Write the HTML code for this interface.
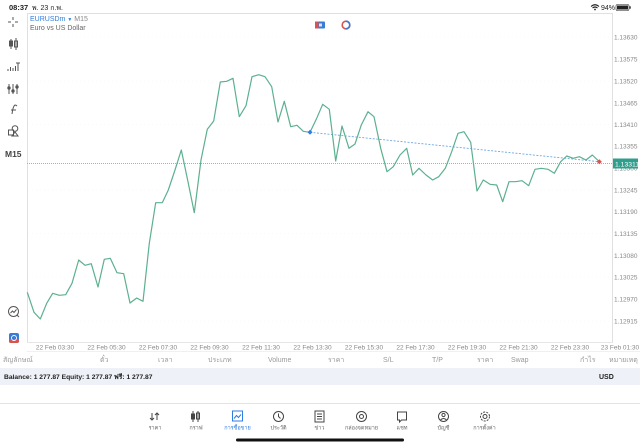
<!DOCTYPE html>
<html><head><meta charset="utf-8">
<style>
html,body{margin:0;padding:0;background:#fff;}
body{width:640px;height:447px;overflow:hidden;position:relative;font-family:"Liberation Sans","Noto Sans CJK SC",sans-serif;}
svg{position:absolute;left:0;top:0;}
text{font-family:"Liberation Sans","Noto Sans CJK SC",sans-serif;}
</style></head><body>
<svg width="640" height="447" viewBox="0 0 640 447" xmlns="http://www.w3.org/2000/svg">
<!-- status bar -->
<text x="9" y="10" font-size="7.5" fill="#222" font-weight="bold">08:37</text>
<text x="32" y="10" font-size="7" fill="#222">พ. 23 ก.พ.</text>
<path d="M591 6.5 q4 -3.5 8 0 M592.5 8 q2.5 -2 5 0" stroke="#222" stroke-width="1.1" fill="none"/>
<circle cx="595" cy="9.5" r="0.9" fill="#222"/>
<text x="601" y="10" font-size="7" fill="#222">94%</text>
<rect x="616" y="4.5" width="13" height="6" rx="1.5" fill="#fff" stroke="#222" stroke-width="0.6"/>
<rect x="617" y="5.5" width="11" height="4" fill="#222"/>
<rect x="629.5" y="6.3" width="1.2" height="2.4" fill="#222"/>

<!-- chart frame -->
<line x1="27" y1="13.5" x2="613" y2="13.5" stroke="#e0e0e0" stroke-width="1"/>
<line x1="27.5" y1="13" x2="27.5" y2="342" stroke="#e0e0e0" stroke-width="1"/>
<line x1="612.5" y1="13" x2="612.5" y2="342" stroke="#e0e0e0" stroke-width="1"/>
<line x1="27" y1="342.5" x2="613" y2="342.5" stroke="#e6e6e6" stroke-width="1"/>
<line x1="27" y1="351.5" x2="640" y2="351.5" stroke="#f0f0f0" stroke-width="1"/>
<!-- faint grid -->
<g stroke="#f3f3f3" stroke-width="0.6" stroke-dasharray="1,3">
<line x1="28" y1="37" x2="612" y2="37"/><line x1="28" y1="81" x2="612" y2="81"/>
<line x1="28" y1="124.5" x2="612" y2="124.5"/><line x1="28" y1="190" x2="612" y2="190"/>
<line x1="28" y1="233.5" x2="612" y2="233.5"/><line x1="28" y1="277" x2="612" y2="277"/>
<line x1="28" y1="321" x2="612" y2="321"/>
</g>

<!-- header -->
<text x="30" y="21" font-size="7" fill="#2f7de1">EURUSDm <tspan font-size="5">▼</tspan> <tspan fill="#888">M15</tspan></text>
<text x="30" y="30" font-size="7" fill="#666">Euro vs US Dollar</text>
<rect x="315" y="21.5" width="10" height="7" rx="1" fill="#3a7bd5"/>
<rect x="315" y="21.5" width="3.5" height="7" fill="#d9534f"/>
<rect x="319" y="23.5" width="3" height="3" fill="#fff" opacity="0.8"/>
<circle cx="346" cy="25" r="3.8" fill="none" stroke="#d9534f" stroke-width="1.6"/>
<path d="M346 21.2 a3.8 3.8 0 0 1 0 7.6" fill="none" stroke="#3a7bd5" stroke-width="1.6"/>

<!-- left toolbar -->
<g stroke="#555" stroke-width="1" fill="none">
<path d="M13 17v3 M13 24v3 M8 22h3 M15 22h3"/>
<path d="M11 39v10 M16 38v12"/><rect x="9.5" y="41" width="3" height="5" fill="#555"/><rect x="14.5" y="41" width="3" height="6"/>
<path d="M8 71v-2 M10.5 71v-4 M13 71v-3 M15.5 71v-5 M18 71v-8 M16 63h4"/>
<path d="M9 84v10 M13 84v10 M17 84v10"/><circle cx="9" cy="88" r="1.2" fill="#555"/><circle cx="13" cy="91" r="1.2" fill="#555"/><circle cx="17" cy="87" r="1.2" fill="#555"/>
<path d="M12 114 q1 -8 3 -9 q1 0 2 1 M11 110h5"/>
<rect x="8.5" y="130" width="5" height="5"/><circle cx="15" cy="128.5" r="2.8"/><path d="M12 136 l3 -4 l3 4z"/>
</g>
<text x="5" y="157" font-size="8.5" font-weight="bold" fill="#444">M15</text>
<g stroke="#555" stroke-width="1" fill="none">
<circle cx="13.5" cy="311.5" r="5"/><path d="M10.5 313 l2 -2 l1.5 1.5 l2.5 -3 M17 315 l2 2"/>
</g>
<rect x="9" y="333" width="10" height="10" rx="2" fill="#3a7bd5"/>
<path d="M9 339 h10 v2 a2 2 0 0 1 -2 2 h-6 a2 2 0 0 1 -2 -2z" fill="#d9534f"/>
<circle cx="14" cy="338" r="2.5" fill="none" stroke="#fff" stroke-width="0.9"/>

<!-- y axis labels -->
<g font-size="6.5" fill="#888">
<text x="614" y="39.5">1.13630</text>
<text x="614" y="61.5">1.13575</text>
<text x="614" y="83.5">1.13520</text>
<text x="614" y="105.5">1.13465</text>
<text x="614" y="127">1.13410</text>
<text x="614" y="148.5">1.13355</text>
<text x="614" y="170.5">1.13300</text>
<text x="614" y="192.5">1.13245</text>
<text x="614" y="214">1.13190</text>
<text x="614" y="236">1.13135</text>
<text x="614" y="258">1.13080</text>
<text x="614" y="279.5">1.13025</text>
<text x="614" y="301.5">1.12970</text>
<text x="614" y="323.5">1.12915</text>
</g>
<!-- x axis labels -->
<g font-size="6.5" fill="#888" text-anchor="middle">
<text x="55" y="349.5">22 Feb 03:30</text>
<text x="106.5" y="349.5">22 Feb 05:30</text>
<text x="158" y="349.5">22 Feb 07:30</text>
<text x="209.5" y="349.5">22 Feb 09:30</text>
<text x="261" y="349.5">22 Feb 11:30</text>
<text x="312.5" y="349.5">22 Feb 13:30</text>
<text x="364" y="349.5">22 Feb 15:30</text>
<text x="415.5" y="349.5">22 Feb 17:30</text>
<text x="467" y="349.5">22 Feb 19:30</text>
<text x="518.5" y="349.5">22 Feb 21:30</text>
<text x="570" y="349.5">22 Feb 23:30</text>
<text x="620" y="349.5">23 Feb 01:30</text>
</g>

<!-- price line -->
<line x1="27" y1="163.5" x2="612" y2="163.5" stroke="#7cc4ad" stroke-width="1" stroke-dasharray="1,1"/>
<!-- trend line -->
<line x1="310" y1="132.3" x2="599.3" y2="161.7" stroke="#6ea8e0" stroke-width="0.9" stroke-dasharray="2,1.5"/>

<!-- series -->
<polyline fill="none" stroke="#5cb08f" stroke-width="1.2" stroke-linejoin="round" points="27.3,292.3 34,312.3 40.3,319 46.7,303.3 52.7,293.3 59.3,295.3 65.7,294.7 72,283.3 78.7,260 85,265.3 91.3,263.7 98,287 104.3,259.3 110.3,258.3 117,272.7 123.7,273.7 130,303 136.7,298 143,301.3 149.3,243.3 155.7,202.7 162.3,202.7 168.3,190 175,170 181.3,150 188,181.7 194.3,212.7 201,160 207.3,129.3 213.7,121 220.3,82 226.7,81.3 233,78.3 239.3,116.7 246,105.7 252,76.7 258.7,74.7 265,76.7 271.7,86.7 278,122 284.3,101.3 290.7,126.7 297,125.3 303.3,131.3 310,132.3 316.7,118.3 322.7,104.3 329.3,109.3 335.7,161 342,126 349,148.3 355,144 361.3,125 368,111.7 374,116.7 380.7,148.3 387,171.7 393.3,166.7 400,155 406.7,148.3 412.7,175 419,168.3 426,175 432.7,180 438.7,176.7 445.3,168.3 451.7,151.7 458,133.3 464,131.7 470.7,142.3 477,191 483.3,180 490,184.3 496.7,185 502.7,201.7 509,181.7 515.3,181.7 522,180.7 528.7,185.7 535,169.3 541.3,168.3 548,169.3 554.3,173.3 560.7,161.7 566.7,156 573.3,158.3 579.3,156.7 586,160 592.3,155 599.3,161.7"/>
<!-- markers -->
<path d="M310 129.8 l2.5 2.5 l-2.5 2.5 l-2.5 -2.5z" fill="#2f7de1"/>
<path d="M599.3 159.2 l2.5 2.5 l-2.5 2.5 l-2.5 -2.5z" fill="#d9534f"/>
<!-- price tag -->
<rect x="613" y="158.5" width="25" height="10" fill="#2f9e8c"/>
<text x="615" y="166.3" font-size="6.8" fill="#fff">1.13311</text>

<!-- table header -->
<g font-size="7" fill="#999">
<text x="3" y="362">สัญลักษณ์</text>
<text x="100" y="362">ตั๋ว</text>
<text x="158" y="362">เวลา</text>
<text x="208" y="362">ประเภท</text>
<text x="268" y="362">Volume</text>
<text x="328" y="362">ราคา</text>
<text x="383" y="362">S/L</text>
<text x="432" y="362">T/P</text>
<text x="477" y="362">ราคา</text>
<text x="511" y="362">Swap</text>
<text x="580" y="362">กำไร</text>
<text x="609" y="362">หมายเหตุ</text>
</g>
<rect x="0" y="368" width="640" height="17" fill="#eef1f8"/>
<text x="4" y="379" font-size="6.7" font-weight="bold" fill="#222">Balance: 1 277.87 Equity: 1 277.87 ฟรี: 1 277.87</text>
<text x="599" y="379" font-size="7" font-weight="bold" fill="#222">USD</text>

<!-- tab bar -->
<line x1="0" y1="403.5" x2="640" y2="403.5" stroke="#e4e4e4" stroke-width="1"/>
<g stroke="#444" stroke-width="1" fill="none">
<path d="M152 413v7 M150 418l2 2l2 -2 M157 420v-7 M155 415l2 -2l2 2"/>
<path d="M193 411v11 M198 411v11"/><rect x="191.5" y="414" width="3" height="5" fill="#444"/><rect x="196.5" y="413" width="3" height="6"/>
<circle cx="278.5" cy="416.5" r="5"/><path d="M278.5 413.5v3l2 2"/>
<rect x="315" y="411" width="9" height="11"/><path d="M317 414h5 M317 416.5h5 M317 419h5"/>
<circle cx="361.5" cy="416.5" r="5"/><circle cx="361.5" cy="416.5" r="2"/>
<path d="M397.5 412h9v8h-5l-2 2v-2h-2z"/>
<circle cx="443.5" cy="416.5" r="5"/><circle cx="443.5" cy="415" r="1.6"/><path d="M440.5 420q3 -3 6 0"/>
<circle cx="485" cy="416.5" r="2"/><circle cx="485" cy="416.5" r="4.5" stroke-dasharray="2,1.2"/>
</g>
<rect x="232.5" y="411" width="10" height="10" fill="none" stroke="#2f7de1" stroke-width="1"/>
<path d="M234 418.5l2.5 -3l2 2l2.5 -3" fill="none" stroke="#2f7de1" stroke-width="1"/>
<g font-size="5.5" fill="#666" text-anchor="middle">
<text x="155" y="429.5">ราคา</text>
<text x="196" y="429.5">กราฟ</text>
<text x="237.5" y="429.5" fill="#2f7de1">การซื้อขาย</text>
<text x="278.5" y="429.5">ประวัติ</text>
<text x="319.5" y="429.5">ข่าว</text>
<text x="361.5" y="429.5">กล่องจดหมาย</text>
<text x="402" y="429.5">แชท</text>
<text x="443.5" y="429.5">บัญชี</text>
<text x="484.5" y="429.5">การตั้งค่า</text>
</g>
<rect x="236" y="438.5" width="168" height="3" rx="1.5" fill="#111"/>
</svg>
</body></html>
